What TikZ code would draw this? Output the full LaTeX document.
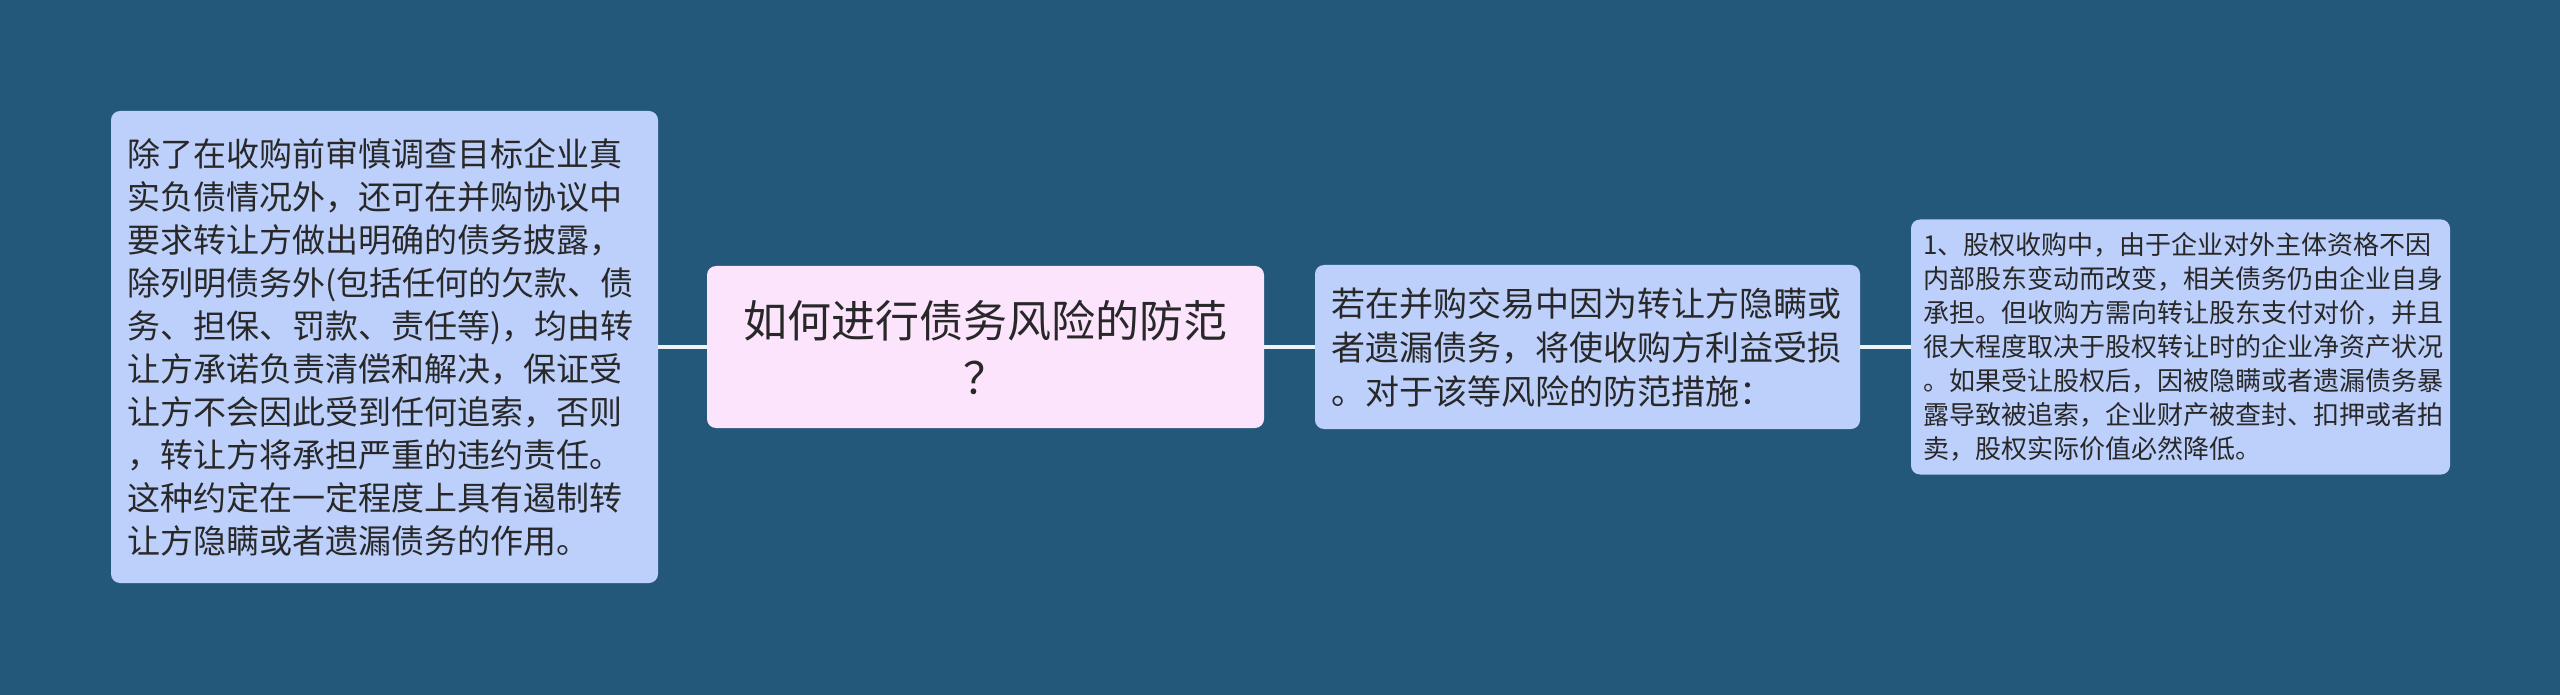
\documentclass[tikz,border=0pt]{standalone}
\usepackage{fontspec}
\setmainfont{Noto Sans CJK SC}
\usetikzlibrary{positioning}

\definecolor{bgblue}{RGB}{36,88,122}
\definecolor{leafblue}{RGB}{189,208,251}
\definecolor{rootpink}{RGB}{253,228,253}
\definecolor{txtgray}{RGB}{40,40,40}

\begin{document}
\begin{tikzpicture}[x=1pt, y=-1pt,
    box/.style={rounded corners=9pt, fill=leafblue, text=txtgray, inner sep=0pt, align=left},
    link/.style={draw=white!92!bgblue, line width=4pt}]
            \fill[bgblue] (0, 0) rectangle (2560, 695);
            \useasboundingbox (0, 0) rectangle (2560, 695);
            % main topic
            \node[box, fill=rootpink, align=center, minimum width=557pt, minimum height=162pt,
                  font=\fontsize{44}{57}\selectfont] (topic) at (985.5, 347)
                  {如何进行债务风险的防范\\？};
            % left branch
            \node[box, minimum width=547pt, minimum height=472pt, text width=515pt,
                  font=\fontsize{33}{43}\selectfont] (disclose) at (384.5, 347)
                  {除了在收购前审慎调查目标企业真\\实负债情况外，还可在并购协议中\\要求转让方做出明确的债务披露，\\除列明债务外(包括任何的欠款、债\\务、担保、罚款、责任等)，均由转\\让方承诺负责清偿和解决，保证受\\让方不会因此受到任何追索，否则\\，转让方将承担严重的违约责任。\\这种约定在一定程度上具有遏制转\\让方隐瞒或者遗漏债务的作用。};
            % right branch
            \node[box, minimum width=545pt, minimum height=164pt, text width=513pt,
                  font=\fontsize{34}{44}\selectfont] (risk) at (1587.5, 347)
                  {若在并购交易中因为转让方隐瞒或\\者遗漏债务，将使收购方利益受损\\。对于该等风险的防范措施：};
            \node[box, minimum width=539pt, minimum height=255pt, text width=515pt,
                  font=\fontsize{26}{34}\selectfont] (equity) at (2180.5, 347)
                  {1、股权收购中，由于企业对外主体资格不因\\内部股东变动而改变，相关债务仍由企业自身\\承担。但收购方需向转让股东支付对价，并且\\很大程度取决于股权转让时的企业净资产状况\\。如果受让股权后，因被隐瞒或者遗漏债务暴\\露导致被追索，企业财产被查封、扣押或者拍\\卖，股权实际价值必然降低。};
            \draw[link] (disclose.east)--(topic.west);
            \draw[link] (topic.east)--(risk.west);
            \draw[link] (risk.east)--(equity.west);
        \end{tikzpicture}
\end{document}
